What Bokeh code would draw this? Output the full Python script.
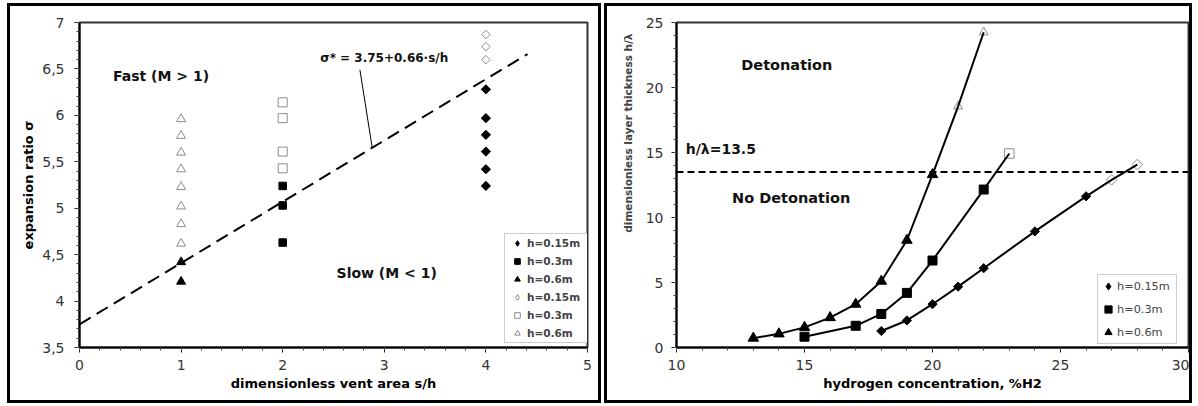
from bokeh.plotting import figure
from bokeh.layouts import row
from bokeh.models import (Range1d, Legend, LegendItem, Label, Span,
                          SingleIntervalTicker, Title)
from bokeh.embed import file_html
from bokeh.resources import INLINE
import numpy as np

# ---------------- data: left chart (expansion ratio vs vent area) -------------
open_tri_x = [1, 1, 1, 1, 1, 1, 1, 1]
open_tri_y = [5.96, 5.78, 5.60, 5.42, 5.23, 5.02, 4.83, 4.62]
fill_tri_x = [1, 1]
fill_tri_y = [4.42, 4.21]
open_sq_x = [2, 2, 2, 2]
open_sq_y = [6.14, 5.97, 5.61, 5.43]
fill_sq_x = [2, 2, 2]
fill_sq_y = [5.24, 5.03, 4.63]
open_dia_x = [4, 4, 4]
open_dia_y = [6.87, 6.74, 6.60]
fill_dia_x = [4, 4, 4, 4, 4, 4]
fill_dia_y = [6.28, 5.97, 5.79, 5.61, 5.42, 5.24]
fit_x = [0, 4.41]
fit_y = [3.75, 6.66]
left_y_ticks = [3.5, 4, 4.5, 5, 5.5, 6, 6.5, 7]
left_y_labels = ["3,5", "4", "4,5", "5", "5,5", "6", "6,5", "7"]

# ---------------- data: right chart (h/lambda vs H2 concentration) ------------
c015 = [18, 19, 20, 21, 22, 24, 26]
t015 = [1.27, 2.08, 3.33, 4.68, 6.10, 8.93, 11.63]
c015_open = [27, 28]
t015_open = [12.90, 14.07]
c03 = [15, 17, 18, 19, 20, 22]
t03 = [0.83, 1.67, 2.58, 4.20, 6.69, 12.15]
c03_open = [23]
t03_open = [14.92]
c06 = [13, 14, 15, 16, 17, 18, 19, 20]
t06 = [0.72, 1.05, 1.55, 2.30, 3.33, 5.10, 8.25, 13.30]
c06_open = [21, 22]
t06_open = [18.55, 24.25]
threshold = 13.5

FONT = "DejaVu Sans"
GRAY = "#8c8c8c"
TICK_COL = "#333333"
DIA = np.pi / 4
NOWHERE = [np.nan]   # legend proxies: carry a symbol but draw nothing in the plot


def style_axes(p, tick_font="14px"):
    for ax in (p.xaxis[0], p.yaxis[0]):
        ax.axis_line_width = 2
        ax.axis_line_color = "black"
        ax.major_tick_out = 5
        ax.major_tick_in = 0
        ax.minor_tick_out = 3
        ax.minor_tick_in = 0
        ax.major_tick_line_color = "#222222"
        ax.minor_tick_line_color = "#444444"
        ax.major_label_text_font = FONT
        ax.major_label_text_font_size = tick_font
        ax.major_label_text_color = TICK_COL
        ax.axis_label_text_font = FONT
        ax.axis_label_text_font_style = "bold"
        ax.axis_label_text_color = "black"
    p.grid.visible = False
    p.outline_line_color = "#333333"
    p.outline_line_width = 2


def legend_marker(p, marker, fill, line):
    return p.scatter(NOWHERE, NOWHERE, marker=marker, fill_color=fill,
                     line_color=line, size=8)


# ================================ left figure =================================
p1 = figure(width=594, height=400, output_backend="svg", toolbar_location=None,
            x_range=Range1d(0, 5), y_range=Range1d(3.5, 7),
            min_border_left=69, min_border_right=17, min_border_top=16,
            min_border_bottom=59,
            styles={"border": "3px solid black"})
style_axes(p1)
p1.xaxis.ticker = SingleIntervalTicker(interval=1, num_minor_ticks=5)
p1.yaxis.ticker = SingleIntervalTicker(interval=0.5, num_minor_ticks=5)
p1.yaxis.major_label_overrides = {t: l for t, l in zip(left_y_ticks, left_y_labels)}
p1.xaxis.axis_label = "dimensionless vent area s/h"
p1.yaxis.axis_label = "expansion ratio σ"
p1.xaxis.axis_label_text_font_size = "13px"
p1.yaxis.axis_label_text_font_size = "13px"
p1.xaxis.major_label_standoff = 7
p1.yaxis.major_label_standoff = 10
p1.xaxis.axis_label_standoff = 3
p1.yaxis.axis_label_standoff = 3

p1.line(fit_x, fit_y, line_color="black", line_width=2, line_dash="13 7")
p1.line([2.76, 2.88], [6.49, 5.66], line_color="black", line_width=1)

p1.scatter(open_dia_x, open_dia_y, marker="square", angle=DIA, size=6,
           fill_color="white", line_color=GRAY, line_width=1)
p1.scatter(open_sq_x, open_sq_y, marker="square", size=9,
           fill_color="white", line_color=GRAY, line_width=1)
p1.scatter(open_tri_x, open_tri_y, marker="triangle", size=9,
           fill_color="white", line_color=GRAY, line_width=1)
p1.scatter(fill_dia_x, fill_dia_y, marker="square", angle=DIA, size=6.5,
           fill_color="black", line_color="black")
p1.scatter(fill_sq_x, fill_sq_y, marker="square", size=7.5,
           fill_color="black", line_color="black")
p1.scatter(fill_tri_x, fill_tri_y, marker="triangle", size=9,
           fill_color="black", line_color="black")

l_fd = legend_marker(p1, "diamond", "black", "black")
l_fs = legend_marker(p1, "square", "black", "black")
l_ft = legend_marker(p1, "triangle", "black", "black")
l_od = legend_marker(p1, "diamond", "white", GRAY)
l_os = legend_marker(p1, "square", "white", GRAY)
l_ot = legend_marker(p1, "triangle", "white", GRAY)

leg1 = Legend(items=[LegendItem(label="h=0.15m", renderers=[l_fd]),
                     LegendItem(label="h=0.3m", renderers=[l_fs]),
                     LegendItem(label="h=0.6m", renderers=[l_ft]),
                     LegendItem(label="h=0.15m", renderers=[l_od]),
                     LegendItem(label="h=0.3m", renderers=[l_os]),
                     LegendItem(label="h=0.6m", renderers=[l_ot])],
              location=(425, 4), padding=2, spacing=4, margin=0,
              glyph_width=20, glyph_height=14, label_height=14,
              label_width=59, label_standoff=0,
              label_text_font=FONT, label_text_font_size="10.5px",
              label_text_font_style="bold",
              border_line_color="#9a9a9a", border_line_width=1.5,
              background_fill_color="white", background_fill_alpha=1)
p1.add_layout(leg1, "center")

for txt, x, y, fs in [("Fast (M > 1)", 0.33, 6.42, "14px"),
                      ("Slow (M < 1)", 2.53, 4.30, "14px"),
                      ("σ* = 3.75+0.66·s/h", 2.37, 6.62, "12px")]:
    p1.add_layout(Label(x=x, y=y, text=txt, text_font=FONT, text_font_size=fs,
                        text_font_style="bold", text_baseline="middle",
                        text_align="left", text_color="#111111"))

# ================================ right figure ================================
p2 = figure(width=588, height=400, output_backend="svg", toolbar_location=None,
            x_range=Range1d(10, 30), y_range=Range1d(0, 25),
            min_border_left=69, min_border_right=7, min_border_top=16,
            min_border_bottom=59,
            styles={"border": "3px solid black"})
style_axes(p2)
p2.xaxis.ticker = SingleIntervalTicker(interval=5, num_minor_ticks=5)
p2.yaxis.ticker = SingleIntervalTicker(interval=5, num_minor_ticks=5)
p2.xaxis.axis_label = "hydrogen concentration, %H2"
p2.xaxis.axis_label_text_font_size = "13px"
p2.xaxis.major_label_standoff = 7
p2.yaxis.major_label_standoff = 8
p2.xaxis.axis_label_standoff = 3
p2.add_layout(Title(text="dimensionless layer thickness h/λ", align="right",
                    offset=11, standoff=18, text_font=FONT,
                    text_font_size="10.5px", text_font_style="bold"), "left")

p2.add_layout(Span(location=threshold, dimension="width", line_color="black",
                   line_width=2, line_dash="7 4"))

# open markers under the lines
p2.scatter(c015_open, t015_open, marker="square", angle=DIA, size=7.5,
           fill_color="white", line_color=GRAY, line_width=1)
p2.scatter(c03_open, t03_open, marker="square", size=9.5,
           fill_color="white", line_color=GRAY, line_width=1)
p2.scatter(c06_open, t06_open, marker="triangle", size=9,
           fill_color="white", line_color=GRAY, line_width=1)

p2.line(c015 + c015_open, t015 + t015_open, line_color="black", line_width=2)
p2.line(c03 + c03_open, t03 + t03_open, line_color="black", line_width=2)
p2.line(c06 + c06_open, t06 + t06_open, line_color="black", line_width=2)

p2.scatter(c015, t015, marker="square", angle=DIA, size=6.5,
           fill_color="black", line_color="black")
p2.scatter(c03, t03, marker="square", size=9,
           fill_color="black", line_color="black")
p2.scatter(c06, t06, marker="triangle", size=10.5,
           fill_color="black", line_color="black")

m_d = legend_marker(p2, "diamond", "black", "black")
m_s = legend_marker(p2, "square", "black", "black")
m_t = legend_marker(p2, "triangle", "black", "black")

leg2 = Legend(items=[LegendItem(label="h=0.15m", renderers=[m_d]),
                     LegendItem(label="h=0.3m", renderers=[m_s]),
                     LegendItem(label="h=0.6m", renderers=[m_t])],
              location=(421, 3), padding=1, spacing=3, margin=0,
              glyph_width=18, glyph_height=20, label_height=20,
              label_width=58, label_standoff=0,
              label_text_font=FONT, label_text_font_size="11.3px",
              border_line_color="#9a9a9a", border_line_width=1.5,
              background_fill_color="white", background_fill_alpha=1)
p2.add_layout(leg2, "center")

for txt, x, y, fs in [("Detonation", 12.53, 21.7, "14.5px"),
                      ("h/λ=13.5", 10.36, 15.3, "14px"),
                      ("No Detonation", 12.17, 11.47, "14.5px")]:
    p2.add_layout(Label(x=x, y=y, text=txt, text_font=FONT, text_font_size=fs,
                        text_font_style="bold", text_baseline="middle",
                        text_align="left", text_color="#111111"))

layout = row(p1, p2, spacing=3,
             styles={"margin-left": "7px", "margin-top": "3px"})

open("out.html", "w").write(file_html(layout, INLINE))
